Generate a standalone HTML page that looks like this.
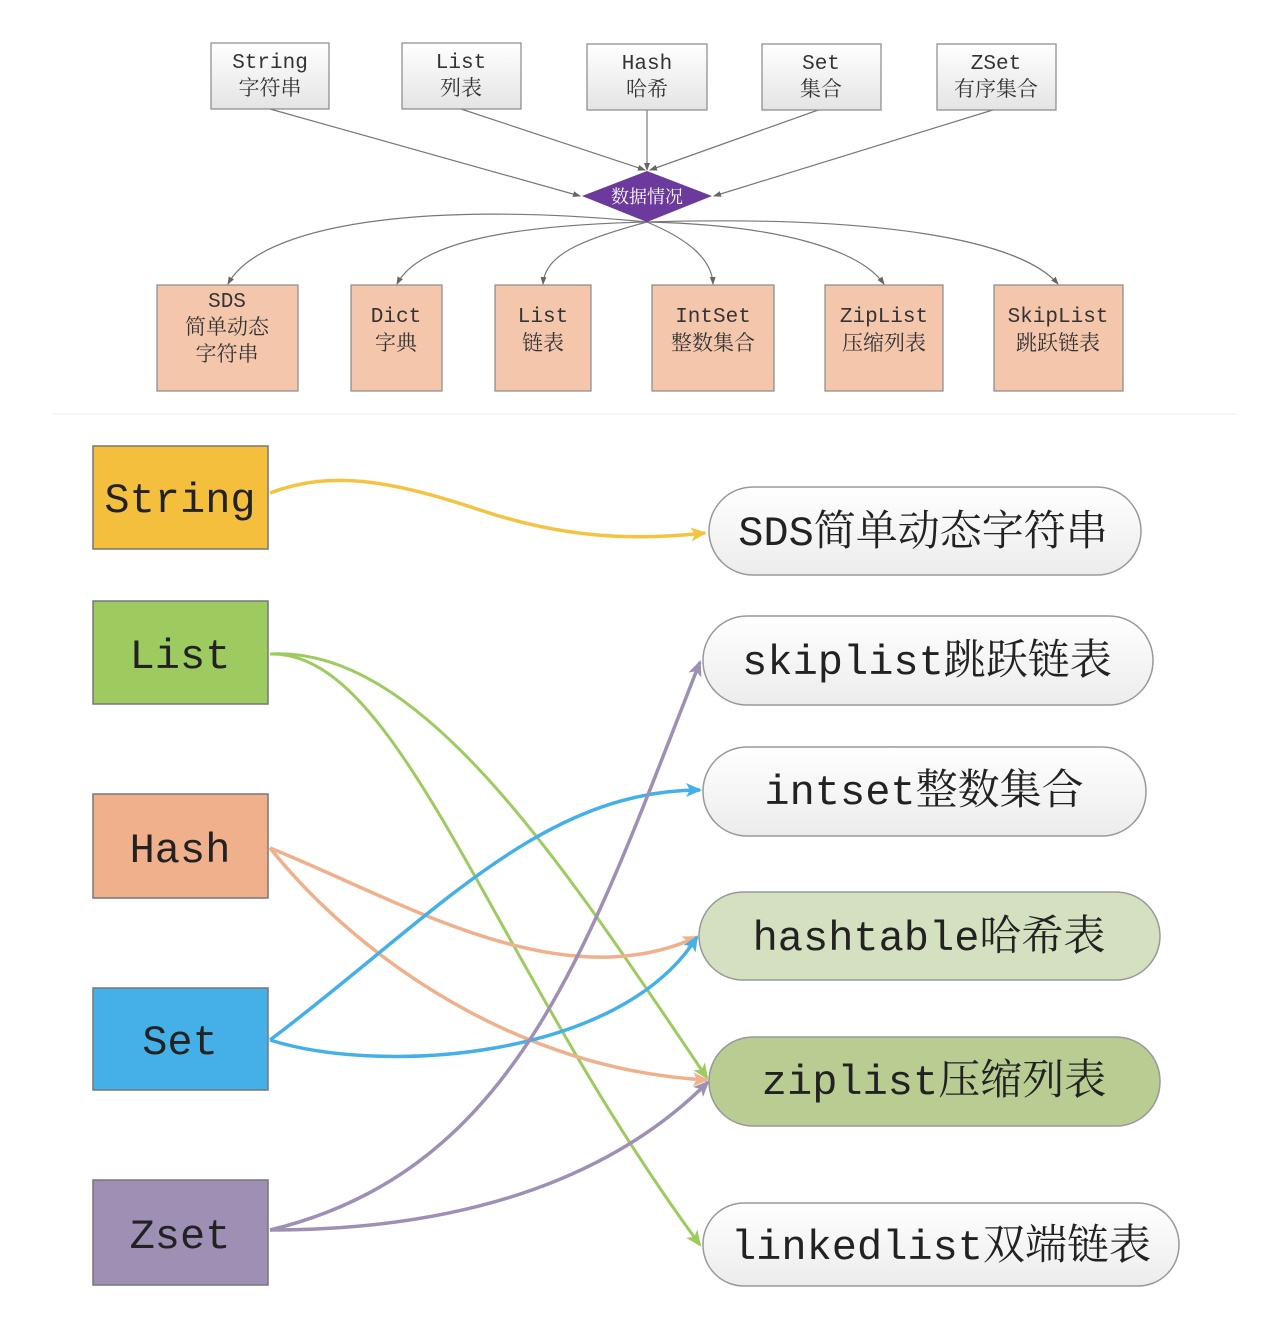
<!DOCTYPE html>
<html><head><meta charset="utf-8"><style>
html,body{margin:0;padding:0;background:#fff}
svg{display:block}
text{font-family:"Liberation Mono","Noto Serif CJK SC",monospace}
</style></head><body>
<svg width="1262" height="1338" viewBox="0 0 1262 1338" xmlns="http://www.w3.org/2000/svg">
<defs>
<linearGradient id="g1" x1="0" y1="0" x2="0" y2="1"><stop offset="0" stop-color="#ffffff"/><stop offset="1" stop-color="#e4e4e4"/></linearGradient>
<linearGradient id="g2" x1="0" y1="0" x2="0" y2="1"><stop offset="0" stop-color="#ffffff"/><stop offset="1" stop-color="#ececec"/></linearGradient>
<marker id="ag" markerWidth="8" markerHeight="8" refX="7" refY="4" orient="auto" markerUnits="userSpaceOnUse"><path d="M0,1 L8,4 L0,7 z" fill="#666"/></marker>
<marker id="ay" markerWidth="16" markerHeight="16" refX="14" refY="8" orient="auto" markerUnits="userSpaceOnUse"><path d="M0,1 L16,8 L0,15 L4,8 z" fill="#f5c242"/></marker>
<marker id="agr" markerWidth="16" markerHeight="16" refX="14" refY="8" orient="auto" markerUnits="userSpaceOnUse"><path d="M0,1 L16,8 L0,15 L4,8 z" fill="#9dcb5f"/></marker>
<marker id="ao" markerWidth="16" markerHeight="16" refX="14" refY="8" orient="auto" markerUnits="userSpaceOnUse"><path d="M0,1 L16,8 L0,15 L4,8 z" fill="#f0b08c"/></marker>
<marker id="ab" markerWidth="16" markerHeight="16" refX="14" refY="8" orient="auto" markerUnits="userSpaceOnUse"><path d="M0,1 L16,8 L0,15 L4,8 z" fill="#45b0e8"/></marker>
<marker id="ap" markerWidth="16" markerHeight="16" refX="14" refY="8" orient="auto" markerUnits="userSpaceOnUse"><path d="M0,1 L16,8 L0,15 L4,8 z" fill="#9e8fb5"/></marker>
</defs>

<!-- top lines -->
<g stroke="#777" stroke-width="1.2" fill="none" marker-end="url(#ag)">
<path d="M270,109 L580,196"/>
<path d="M461,109 L645,170"/>
<path d="M647,109 L647,170"/>
<path d="M821,109 L650,170"/>
<path d="M996,109 L714,196"/>
<path d="M647,222 C420,200 260,225 228,284"/>
<path d="M647,222 C520,225 420,240 397,284"/>
<path d="M647,222 C580,240 545,255 543,284"/>
<path d="M647,222 C690,240 712,260 713,284"/>
<path d="M647,222 C780,225 860,250 884,284"/>
<path d="M647,222 C880,215 1020,240 1058,284"/>
</g>

<!-- top boxes -->
<g stroke="#888" stroke-width="1.2" fill="url(#g1)">
<rect x="211" y="43" width="118" height="66"/>
<rect x="402" y="43" width="119" height="66"/>
<rect x="587" y="44" width="120" height="66"/>
<rect x="762" y="44" width="119" height="66"/>
<rect x="937" y="44" width="119" height="66"/>
</g>
<g font-size="21" fill="#333" text-anchor="middle">
<text x="270" y="68">String</text><text x="270" y="95">字符串</text>
<text x="461" y="68">List</text><text x="461" y="95">列表</text>
<text x="647" y="69">Hash</text><text x="647" y="96">哈希</text>
<text x="821" y="69">Set</text><text x="821" y="96">集合</text>
<text x="996" y="69">ZSet</text><text x="996" y="96">有序集合</text>
</g>
<polygon points="582,196 647,171 712,196 647,222" fill="#6b3a9c"/>
<text x="647" y="203" font-size="18" fill="#fff" text-anchor="middle">数据情况</text>

<g stroke="#888" stroke-width="1.2" fill="#f4c7ad">
<rect x="157" y="285" width="141" height="106"/>
<rect x="351" y="285" width="91" height="106"/>
<rect x="495" y="285" width="96" height="106"/>
<rect x="652" y="285" width="122" height="106"/>
<rect x="825" y="285" width="118" height="106"/>
<rect x="994" y="285" width="129" height="106"/>
</g>
<g font-size="21" fill="#333" text-anchor="middle">
<text x="227" y="307">SDS</text><text x="227" y="334">简单动态</text><text x="227" y="361">字符串</text>
<text x="396" y="322">Dict</text><text x="396" y="350">字典</text>
<text x="543" y="322">List</text><text x="543" y="350">链表</text>
<text x="713" y="322">IntSet</text><text x="713" y="350">整数集合</text>
<text x="884" y="322">ZipList</text><text x="884" y="350">压缩列表</text>
<text x="1058" y="322">SkipList</text><text x="1058" y="350">跳跃链表</text>
</g>

<line x1="53" y1="414" x2="1237" y2="414" stroke="#eee" stroke-width="1"/>

<!-- bottom left boxes -->
<g stroke="#777" stroke-width="1.5">
<rect x="93" y="446" width="175" height="103" fill="#f5bf3e"/>
<rect x="93" y="601" width="175" height="103" fill="#9dcb5f"/>
<rect x="93" y="794" width="175" height="104" fill="#f0b08c"/>
<rect x="93" y="988" width="175" height="102" fill="#45b0e8"/>
<rect x="93" y="1180" width="175" height="105" fill="#9e8fb5"/>
</g>
<g font-size="42" fill="#222" text-anchor="middle">
<text x="180" y="512">String</text>
<text x="180" y="668">List</text>
<text x="180" y="862">Hash</text>
<text x="180" y="1054">Set</text>
<text x="180" y="1248">Zset</text>
</g>

<!-- pills -->
<g stroke="#999" stroke-width="1.5">
<rect x="709" y="487" width="432" height="88" rx="44" fill="url(#g2)"/>
<rect x="703" y="616" width="450" height="89" rx="44" fill="url(#g2)"/>
<rect x="703" y="747" width="443" height="89" rx="44" fill="url(#g2)"/>
<rect x="699" y="892" width="461" height="88" rx="44" fill="#d5e0c0"/>
<rect x="709" y="1037" width="451" height="89" rx="44" fill="#b9cc92"/>
<rect x="703" y="1203" width="476" height="83" rx="41" fill="url(#g2)"/>
</g>
<g font-size="42" fill="#222" text-anchor="middle">
<text x="923" y="545">SDS简单动态字符串</text>
<text x="927" y="674">skiplist跳跃链表</text>
<text x="924" y="804">intset整数集合</text>
<text x="929" y="950">hashtable哈希表</text>
<text x="934" y="1094">ziplist压缩列表</text>
<text x="941" y="1259">linkedlist双端链表</text>
</g>

<!-- connectors -->
<g fill="none" stroke-width="3.5">
<path d="M270,493 C330,470 390,480 480,510 S640,540 705,533" stroke="#f5c242" marker-end="url(#ay)"/>
<path d="M270,654 C420,645 560,860 707,1078" stroke="#9dcb5f" stroke-width="3" marker-end="url(#agr)"/>
<path d="M270,654 C400,650 490,960 700,1245" stroke="#9dcb5f" stroke-width="3" marker-end="url(#agr)"/>
<path d="M270,848 C400,900 560,1000 697,937" stroke="#f0b08c" marker-end="url(#ao)"/>
<path d="M270,848 C360,960 520,1070 707,1080" stroke="#f0b08c" marker-end="url(#ao)"/>
<path d="M270,1040 C430,920 540,790 700,790" stroke="#45b0e8" marker-end="url(#ab)"/>
<path d="M270,1040 C380,1075 620,1060 697,937" stroke="#45b0e8" marker-end="url(#ab)"/>
<path d="M270,1230 C520,1170 590,940 700,662" stroke="#9e8fb5" marker-end="url(#ap)"/>
<path d="M270,1230 C480,1230 620,1170 708,1082" stroke="#9e8fb5" marker-end="url(#ap)"/>
</g>
</svg>
</body></html>
